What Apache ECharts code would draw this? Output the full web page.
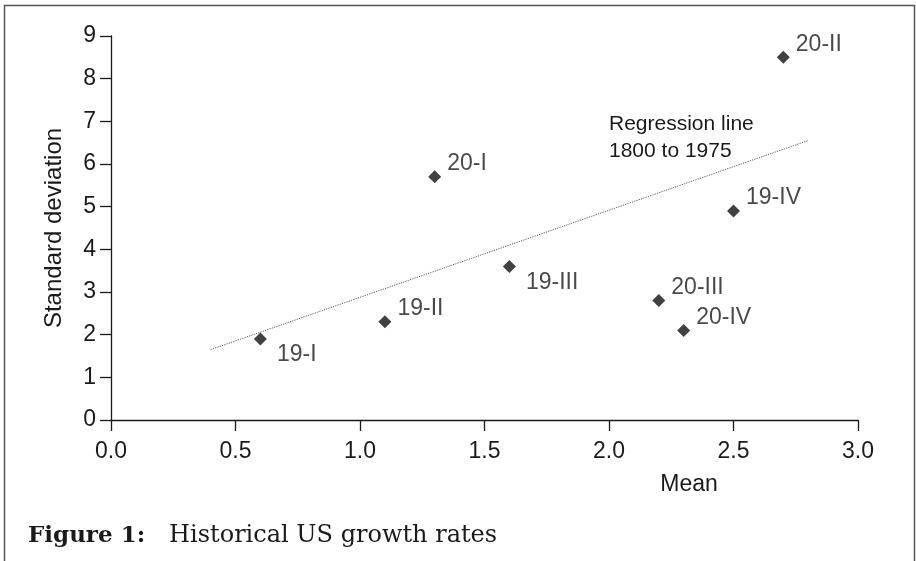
<!DOCTYPE html>
<html>
<head>
<meta charset="utf-8">
<script src="https://cdn.jsdelivr.net/npm/echarts@6/dist/echarts.min.js"></script>
<style>
html,body{margin:0;padding:0;background:#fff;}
#chart{width:916px;height:561px;}
</style>
</head>
<body>
<div id="chart"></div>
<script>
// Data
const periods = ['19-I', '19-II', '20-I', '19-III', '20-III', '20-IV', '19-IV', '20-II'];
const means   = [0.6, 1.1, 1.3, 1.6, 2.2, 2.3, 2.5, 2.7];
const stdDevs = [1.9, 2.3, 5.7, 3.6, 2.8, 2.1, 4.9, 8.5];
const regressionX = [0.4, 2.8];
const regressionY = [1.65, 6.55];
const xTicks = ['0.0', '0.5', '1.0', '1.5', '2.0', '2.5', '3.0'];
const xAxisTitle = 'Mean';
const yAxisTitle = 'Standard deviation';
const regressionNote = 'Regression line\n1800 to 1975';
const captionBold = 'Figure 1:';
const captionText = 'Historical US growth rates';

const FONT = '"Liberation Sans", Arial, Helvetica, sans-serif';
const SERIF = '"DejaVu Serif", "Liberation Serif", serif';
const labelsBelow = new Set(['19-I', '19-III']);

const pointData = periods.map((p, i) => {
  const below = labelsBelow.has(p);
  return {
    name: p,
    value: [means[i], stdDevs[i]],
    label: {
      position: 'right',
      distance: below ? 10 : 6,
      offset: below ? [0, 16] : [0, -13]
    }
  };
});

const chart = echarts.init(document.getElementById('chart'));
chart.setOption({
  animation: false,
  backgroundColor: '#fff',
  grid: { left: 111, right: 58, top: 36, bottom: 141 },
  xAxis: {
    type: 'value',
    min: 0, max: 3, interval: 0.5,
    axisLine: { show: true, onZero: false, lineStyle: { color: '#1a1a1a', width: 1.3 } },
    axisTick: { show: true, length: 11, lineStyle: { color: '#1a1a1a', width: 1.3 } },
    axisLabel: {
      margin: 20, fontSize: 23, color: '#1a1a1a', fontFamily: FONT,
      formatter: v => xTicks[Math.round(v / 0.5)]
    },
    splitLine: { show: false }
  },
  yAxis: {
    type: 'value',
    min: 0, max: 9, interval: 1,
    name: yAxisTitle,
    nameLocation: 'middle',
    nameGap: 45,
    nameRotate: 90,
    nameTextStyle: { fontSize: 24, color: '#1a1a1a', fontFamily: FONT },
    axisLine: { show: true, lineStyle: { color: '#1a1a1a', width: 1.3 } },
    axisTick: { show: true, length: 11, lineStyle: { color: '#1a1a1a', width: 1.3 } },
    axisLabel: { margin: 15, fontSize: 23, color: '#1a1a1a', fontFamily: FONT },
    splitLine: { show: false }
  },
  series: [
    {
      type: 'line',
      data: regressionX.map((x, i) => [x, regressionY[i]]),
      symbol: 'none',
      silent: true,
      lineStyle: { color: '#555', width: 1, type: [1.2, 1.2] },
      z: 1
    },
    {
      type: 'scatter',
      symbol: 'diamond',
      symbolSize: 13,
      itemStyle: { color: '#111' },
      data: pointData,
      label: {
        show: true,
        formatter: '{b}',
        fontSize: 23,
        color: '#1a1a1a',
        fontFamily: FONT
      },
      z: 3
    }
  ],
  graphic: [
    {
      type: 'polyline',
      shape: { points: [[4.5, 565], [4.5, 5.5], [914.5, 5.5], [914.5, 565]] },
      style: { stroke: '#555', lineWidth: 1.5, fill: null },
      silent: true
    },
    {
      type: 'text',
      left: 609, top: 111,
      style: { text: regressionNote, fontSize: 21, lineHeight: 27, fill: '#1a1a1a', fontFamily: FONT }
    },
    {
      type: 'text',
      x: 689, y: 485,
      style: { text: xAxisTitle, fontSize: 23, fill: '#1a1a1a', fontFamily: FONT, align: 'center', verticalAlign: 'middle' }
    },
    {
      type: 'text',
      x: 28, y: 536,
      style: {
        text: '{b|' + captionBold + '}{g|}{n|' + captionText + '}',
        verticalAlign: 'middle',
        rich: {
          b: { fontSize: 23, fontWeight: 'bold', fill: '#1a1a1a', fontFamily: SERIF },
          g: { width: 24 },
          n: { fontSize: 24, fill: '#1a1a1a', fontFamily: SERIF }
        }
      }
    }
  ]
});
</script>
</body>
</html>
